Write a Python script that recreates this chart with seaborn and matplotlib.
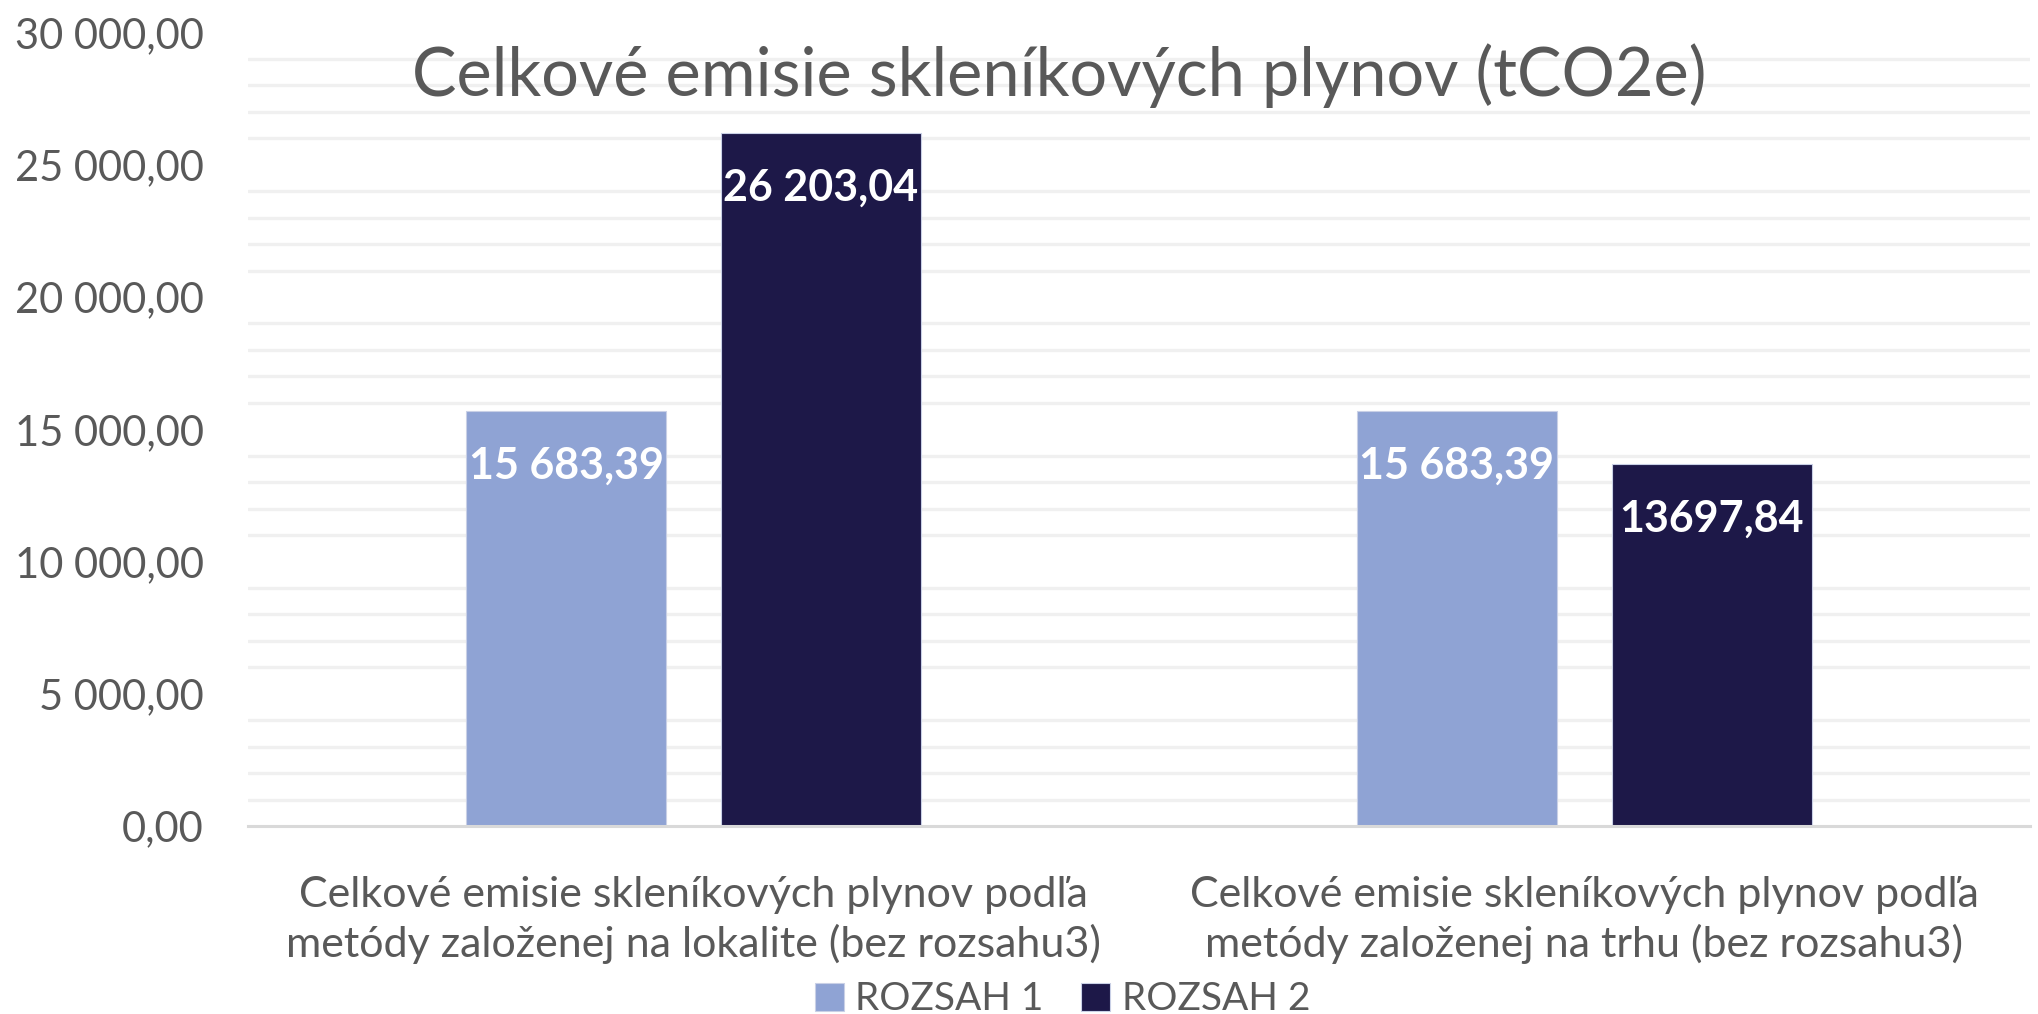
import numpy as np
import pandas as pd
import matplotlib
matplotlib.use("Agg")
import matplotlib.pyplot as plt
import matplotlib.ticker as mticker
import seaborn as sns

# data
kategorie = [
    "Celkové emisie skleníkových plynov podľa\nmetódy založenej na lokalite (bez rozsahu3)",
    "Celkové emisie skleníkových plynov podľa\nmetódy založenej na trhu (bez rozsahu3)",
]
rozsah_1 = [15683.39, 15683.39]
rozsah_2 = [26203.04, 13697.84]
popisky_1 = ["15 683,39", "15 683,39"]
popisky_2 = ["26 203,04", "13697,84"]
serie = ["ROZSAH 1", "ROZSAH 2"]
farby = ["#8FA3D4", "#1D1848"]

df = pd.DataFrame({
    "kategoria": kategorie * 2,
    "hodnota": rozsah_1 + rozsah_2,
    "rozsah": [serie[0]] * 2 + [serie[1]] * 2,
})

sns.set_theme(style="white")
plt.rcParams["font.family"] = ["Lato", "DejaVu Sans"]
SIVA = "#595959"

fig = plt.figure(figsize=(20.38, 10.14), dpi=100)
ax = fig.add_axes([0.1217, 0.1854, 0.8743, 0.7826])

sns.barplot(data=df, x="kategoria", y="hodnota", hue="rozsah",
            palette=farby, saturation=1, width=0.572, gap=0.215, ax=ax,
            edgecolor="#C9D0E6", linewidth=0.8)

for cont, lab in zip(ax.containers, [popisky_1, popisky_2]):
    ax.bar_label(cont, labels=lab, padding=-54, color="white",
                 fontsize=31, fontweight="bold")

ax.set_ylim(0, 30000)
ax.yaxis.set_major_locator(mticker.MultipleLocator(5000))
ax.yaxis.set_minor_locator(mticker.MultipleLocator(1000))
ax.yaxis.set_major_formatter(mticker.FuncFormatter(
    lambda v, p: f"{v:,.2f}".replace(",", " ").replace(".", ",")))
ax.grid(False)
ax.grid(which="minor", axis="y", color="#F0F0F0", linewidth=2.4)
ax.set_axisbelow(True)

ax.tick_params(axis="y", which="major", labelsize=30, labelcolor=SIVA,
               length=0, pad=32)
ax.tick_params(axis="y", which="minor", length=0)
ax.set_xticks(range(len(kategorie)), labels=kategorie, linespacing=1.3)
ax.tick_params(axis="x", labelsize=31, labelcolor=SIVA, length=0, pad=36)
ax.set_xlabel("")
ax.set_ylabel("")

for s in ["top", "right", "left"]:
    ax.spines[s].set_visible(False)
ax.spines["bottom"].set_color("#D9D9D9")
ax.spines["bottom"].set_linewidth(2.2)

ax.text(0.455, 0.946, "Celkové emisie skleníkových plynov (tCO2e)",
        transform=ax.transAxes, ha="center", va="center",
        fontsize=48, color=SIVA)

ax.legend(loc="center", bbox_to_anchor=(0.457, -0.2185), ncol=2,
          frameon=False, fontsize=28, labelcolor=SIVA,
          handlelength=0.75, handleheight=0.75, handletextpad=0.3,
          columnspacing=0.95, borderaxespad=0, borderpad=0)

fig.savefig("out.png", dpi=100)
